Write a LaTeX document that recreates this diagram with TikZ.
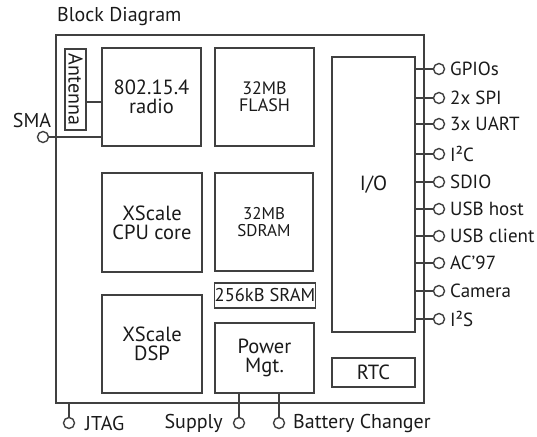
\documentclass[tikz,border=0pt]{standalone}
\usepackage{fontspec}
\setmainfont{PT Sans}
\definecolor{ln}{HTML}{404040}
\definecolor{tx}{HTML}{1A1A1A}
\begin{document}
\begin{tikzpicture}[x=1pt,y=-1pt,
  blk/.style={draw=ln,line width=1.4pt,rectangle,inner sep=0pt,align=center,text=tx},
  big/.style={font=\fontsize{20.5}{19}\selectfont},
  mid/.style={font=\fontsize{18}{17}\selectfont},
  port/.style={draw=ln,line width=1.4pt,circle,inner sep=0pt,minimum size=11pt,fill=white},
  lbl/.style={text=tx,inner sep=0pt,font=\fontsize{20}{20}\selectfont},
  rlbl/.style={lbl,font=\fontsize{19}{19}\selectfont},
  wire/.style={draw=ln,line width=1.4pt}]
\useasboundingbox (0,0) rectangle (537,436);
\node[lbl,anchor=west] (title) at (57,17) {Block Diagram};
\node[blk,minimum width=368pt,minimum height=368pt] (outer) at (240,219) {};
\node[blk,minimum width=21pt,minimum height=81pt] (ant) at (75.5,89.5) {};
\node[text=tx,inner sep=0pt,rotate=-90,font=\fontsize{20}{20}\selectfont] (antt) at (75.5,89.5) {Antenna};
\node[blk,big,minimum width=99pt,minimum height=98pt] (radio) at (151.5,97) {802.15.4\\radio};
\node[blk,mid,minimum width=99pt,minimum height=98pt] (flash) at (264.5,97) {32MB\\FLASH};
\node[blk,minimum width=83pt,minimum height=275pt] (io) at (373.5,194.5) {};
\node[big,text=tx,inner sep=0pt] (iot) at (373.5,185) {I/O};
\node[blk,big,minimum width=100pt,minimum height=99pt] (cpu) at (152,222.5) {XScale\\CPU core};
\node[blk,font=\fontsize{17}{16.5}\selectfont,minimum width=98pt,minimum height=98pt] (sdram) at (264,222) {32MB\\SDRAM};
\node[blk,font=\fontsize{18.5}{18}\selectfont,minimum width=100pt,minimum height=25pt] (sram) at (265,295.5) {256kB SRAM};
\node[blk,big,minimum width=100pt,minimum height=98pt] (dsp) at (152,344) {XScale\\DSP};
\node[blk,big,minimum width=99pt,minimum height=70pt] (power) at (264.5,358) {Power\\Mgt.};
\node[blk,big,minimum width=83pt,minimum height=29pt] (rtc) at (373.5,372.5) {RTC};
% antenna to radio
\coordinate (ar) at (0,102);
\draw[wire] (ant.east |- ar) -- (radio.west |- ar);
% SMA
\node[port] (sma) at (43,137) {};
\node[lbl,anchor=south] (smal) at (32,128) {SMA};
\draw[wire] (sma.east) -- (radio.west |- sma);
% right ports
\foreach \n/\y/\t in {p1/69/GPIOs,p2/98/2x SPI,p3/124/3x UART,p4/154/I²C,p5/182/SDIO,p6/209/USB host,p7/236/USB client,p8/263/AC’97,p9/291/Camera,p10/319/I²S}{
  \node[port] (\n) at (439,\y) {};
  \draw[wire] (io.east |- \n) -- (\n.west);
  \node[rlbl,anchor=west] (\n l) at (450,\y) {\t};
}
% bottom ports
\node[port] (jtag) at (69,423) {};
\draw[wire] (outer.south -| jtag) -- (jtag.north);
\node[lbl,anchor=west] (jtagl) at (85,423) {JTAG};
\node[port] (sup) at (239,423) {};
\draw[wire] (power.south -| sup) -- (sup.north);
\node[lbl,anchor=east] (supl) at (223,423) {Supply};
\node[port] (bat) at (279,423) {};
\draw[wire] (power.south -| bat) -- (bat.north);
\node[lbl,anchor=west] (batl) at (293,423) {Battery Changer};
\end{tikzpicture}
\end{document}
